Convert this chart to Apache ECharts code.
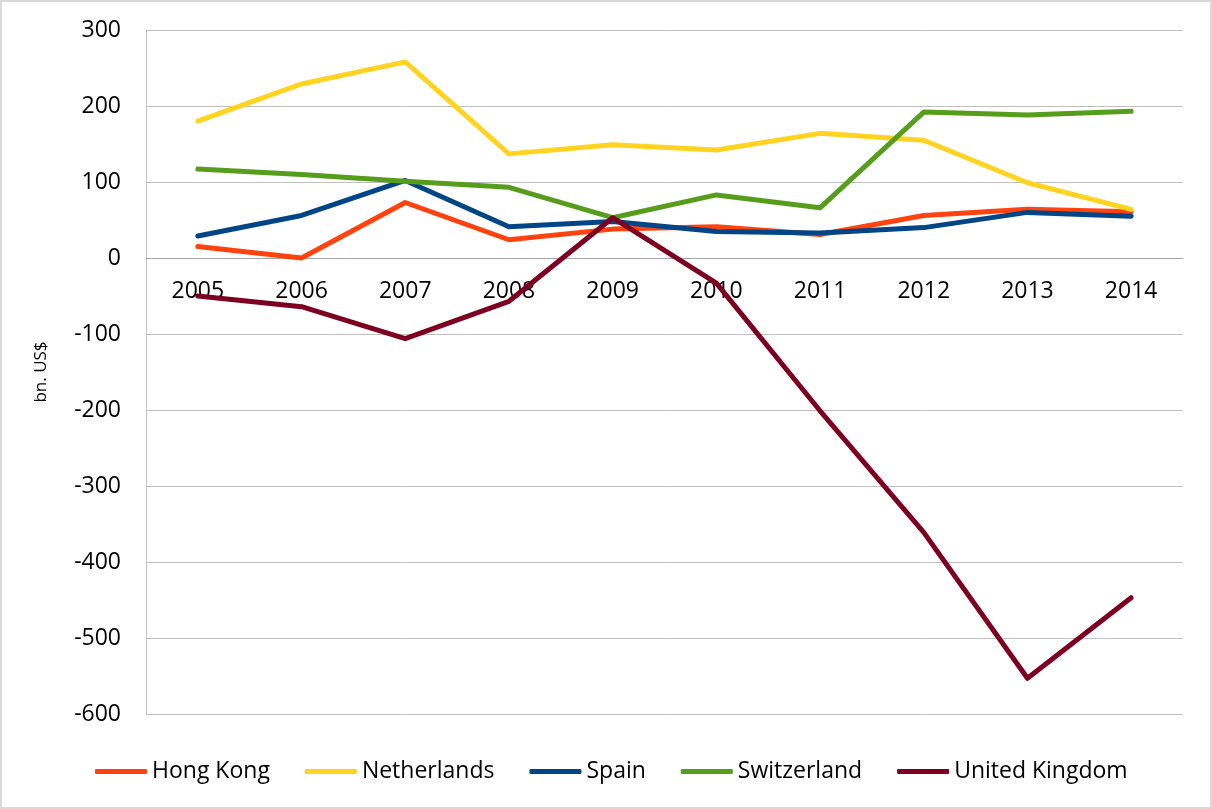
<!DOCTYPE html>
<html>
<head>
<meta charset="utf-8">
<script src="https://cdn.jsdelivr.net/npm/echarts@6/dist/echarts.min.js"></script>
<style>
  html, body { margin: 0; padding: 0; background: #fff; }
  #wrap { position: relative; width: 1212px; height: 809px; }
  #chart { position: absolute; left: 0; top: 0; width: 1212px; height: 809px; }
  #frame { position: absolute; left: 0; top: 0; width: 1212px; height: 809px; box-sizing: border-box;
           border: 2px solid #d9d9d9; pointer-events: none; }
</style>
</head>
<body>
<div id="wrap"><div id="chart"></div><div id="frame"></div></div>
<script>
const years = ['2005','2006','2007','2008','2009','2010','2011','2012','2013','2014'];
const hongKong = [15, 0, 73, 24, 38, 41, 31, 56, 64, 61];
const netherlands = [180, 229, 258, 137, 149, 142, 164, 155, 99, 64];
const spain = [29, 56, 102, 41, 48, 35, 33, 40, 60, 55];
const switzerland = [117, 110, 101, 93, 53, 83, 66, 192, 188, 193];
const unitedKingdom = [-50, -64, -106, -57, 53, -33, -201, -361, -553, -447];
const seriesNames = ['Hong Kong', 'Netherlands', 'Spain', 'Switzerland', 'United Kingdom'];
const yTicks = { min: -600, max: 300, interval: 100 };
const yName = 'bn. US$';

const colors = ['#ff420e', '#ffd320', '#004586', '#579d1c', '#7e0021'];
const dataSets = [hongKong, netherlands, spain, switzerland, unitedKingdom];
const font = '"Open Sans", "Liberation Sans", sans-serif';

const gridTop = 30, gridBottom = 95, chartH = 809;
const plotH = chartH - gridTop - gridBottom;
// move the category axis up to the value 0 line
const zeroOffset = -plotH * (0 - yTicks.min) / (yTicks.max - yTicks.min);

const chart = echarts.init(document.getElementById('chart'), null, { renderer: 'canvas' });
chart.setOption({
  animation: false,
  backgroundColor: '#ffffff',
  color: colors,
  grid: { left: 146, right: 29, top: gridTop, bottom: gridBottom, containLabel: false },
  legend: {
    data: seriesNames,
    left: 95,
    top: 760,
    padding: 0,
    itemWidth: 52,
    itemHeight: 5,
    itemGap: 35,
    icon: 'roundRect',
    textStyle: { fontFamily: font, fontSize: 23, color: '#000' }
  },
  xAxis: {
    type: 'category',
    data: years,
    boundaryGap: true,
    position: 'bottom',
    offset: zeroOffset,
    axisLine: { onZero: false, lineStyle: { color: '#a6a6a6', width: 1 } },
    axisTick: { show: false },
    axisLabel: { fontFamily: font, fontSize: 23, color: '#000', margin: 22 },
    splitLine: { show: false }
  },
  yAxis: {
    type: 'value',
    min: yTicks.min,
    max: yTicks.max,
    interval: yTicks.interval,
    name: yName,
    nameLocation: 'middle',
    nameGap: 96,
    nameRotate: 90,
    nameTextStyle: { fontFamily: font, fontSize: 17, color: '#000' },
    axisLine: { show: true, lineStyle: { color: '#bfbfbf', width: 1 } },
    axisTick: { show: false },
    axisLabel: { fontFamily: font, fontSize: 23, color: '#000', margin: 25 },
    splitLine: { show: true, lineStyle: { color: '#bfbfbf', width: 1 } }
  },
  series: seriesNames.map((name, i) => ({
    name: name,
    type: 'line',
    data: dataSets[i],
    showSymbol: false,
    symbol: 'none',
    lineStyle: { width: 5, color: colors[i], cap: 'round', join: 'round' },
    itemStyle: { color: colors[i] },
    z: 2 + i
  }))
});
</script>
</body>
</html>
